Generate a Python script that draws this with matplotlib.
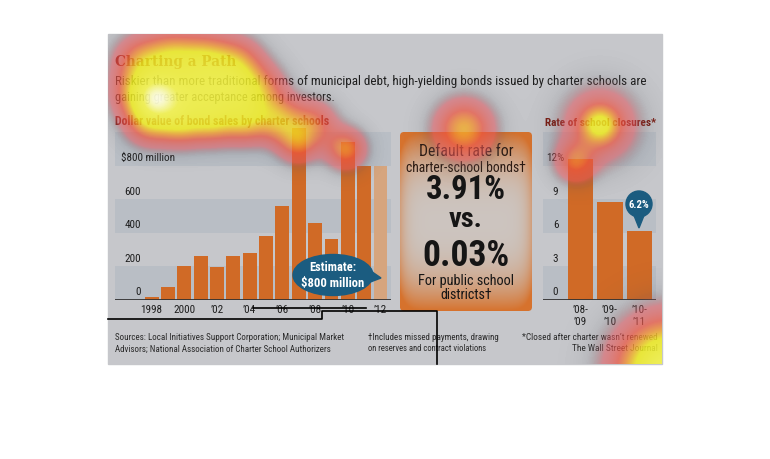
import numpy as np
import matplotlib
matplotlib.use('Agg')
import matplotlib.pyplot as plt
from matplotlib import font_manager as fm
from matplotlib.patches import Rectangle, FancyBboxPatch, Ellipse, Circle, Polygon
from matplotlib.colors import LinearSegmentedColormap

# bond sales by charter schools, $ million
years = [1998, 1999, 2000, 2001, 2002, 2003, 2004, 2005, 2006, 2007, 2008, 2009, 2010, 2011, 2012]
sales = [15, 75, 200, 262, 197, 260, 282, 380, 560, 1025, 460, 362, 940, 800, 800]
year_ticks = [1998, 2000, 2002, 2004, 2006, 2008, 2010, 2012]
year_labels = ['1998', '2000', "\u201902", "\u201904", "\u201906", "\u201908", "\u201910", "\u201912"]
sales_ticks = [0, 200, 400, 600]

# rate of school closures, %
periods = ["\u201908-\n\u201909", "\u201909-\n\u201910", "\u201910-\n\u201911"]
closures = [12.6, 8.8, 6.2]
closure_ticks = [0, 3, 6, 9]

# eye-tracking fixations: x px, y px, weight, spread px
fix_x = [140, 172, 205, 237,
         138, 168, 198, 230, 260,
         148, 180, 212, 245, 280, 314,
         156, 298, 346, 464, 600, 600, 575, 668]
fix_y = [62, 58, 60, 64,
         95, 95, 93, 92, 92,
         124, 124, 122, 122, 122, 124,
         100, 145, 150, 130, 126, 126, 163, 372]
fix_w = [0.3, 0.36, 0.36, 0.3,
         0.34, 0.36, 0.38, 0.36, 0.3,
         0.3, 0.36, 0.36, 0.34, 0.34, 0.26,
         0.3, 0.26, 0.34, 0.4, 0.3, 0.28, 0.26, 0.8]
fix_s = [18, 18, 18, 18,
         18, 18, 18, 18, 18,
         16, 16, 16, 16, 16, 16,
         15, 14, 14, 20, 12, 26, 14, 34]

W, H = 770, 460
PANEL = '#c6c7cb'
BAND = '#b9bec5'
ORANGE = '#d06a26'
TEAL = '#1b5c80'
DARK = '#1e1e1e'
RED = '#7a1a10'


def pick_narrow():
    fl = fm.fontManager.ttflist
    names = {f.name for f in fl}
    for n in ('Roboto Condensed', 'Liberation Sans Narrow', 'Noto Sans Condensed',
              'DejaVu Sans Condensed', 'Open Sans Condensed'):
        if n in names:
            return n, 'normal'
    for n in ('Noto Sans', 'Roboto', 'DejaVu Sans', 'Open Sans'):
        if any(f.name == n and 'condensed' in str(f.stretch) for f in fl):
            return n, 'condensed'
    return 'Liberation Sans', 'normal'


NARROW, STRETCH = pick_narrow()

fig = plt.figure(figsize=(7.7, 4.6), dpi=100)
fig.patch.set_facecolor('white')
renderer = fig.canvas.get_renderer()


def px_axes(x0, y0, x1, y1, z=1):
    return fig.add_axes([x0 / W, 1 - y1 / H, (x1 - x0) / W, (y1 - y0) / H], zorder=z)


def fit(t, width):
    w = t.get_window_extent(renderer).width
    t.set_fontsize(t.get_fontsize() * width / w)
    return t


def ntext(ax, x, y, s, width, size=9, **kw):
    kw.setdefault('family', NARROW)
    kw.setdefault('fontstretch', STRETCH)
    kw.setdefault('va', 'center')
    return fit(ax.text(x, y, s, fontsize=size, **kw), width)


bg = px_axes(0, 0, W, H, z=0)
bg.set_xlim(0, W)
bg.set_ylim(H, 0)
bg.axis('off')
bg.add_patch(Rectangle((108, 35), 554, 330, color=PANEL, zorder=0))

ntext(bg, 115, 62, 'Charting a Path', 121, 14, fontweight='bold', color=RED,
      family='DejaVu Serif', fontstretch='condensed')
ntext(bg, 115, 82, 'Riskier than more traditional forms of municipal debt, high-yielding bonds issued by charter schools are',
      532, color=DARK)
ntext(bg, 115, 97, 'gaining greater acceptance among investors.', 222, color=DARK)
ntext(bg, 115, 121, 'Dollar value of bond sales by charter schools', 213, fontweight='bold', color=RED)
ntext(bg, 545, 123, 'Rate of school closures*', 111, fontweight='bold', color=RED)

# footer
ntext(bg, 115, 338, 'Sources: Local Initiatives Support Corporation; Municipal Market', 230, color='#2a2a2a')
ntext(bg, 115, 349, 'Advisors; National Association of Charter School Authorizers', 218, color='#2a2a2a')
ntext(bg, 368, 338, '\u2020Includes missed payments, drawing', 132, color='#2a2a2a')
ntext(bg, 368, 349, 'on reserves and contract violations', 120, color='#2a2a2a')
ntext(bg, 658, 338, "*Closed after charter wasn\u2019t renewed", 136, color='#2a2a2a', ha='right')
ntext(bg, 658, 349, 'The Wall Street Journal', 86, color='#2a2a2a', ha='right')

# middle box with orange vignette
bx0, by0, bx1, by1 = 400, 133, 532, 312
gx, gy = np.meshgrid(np.linspace(-1, 1, 140), np.linspace(-1, 1, 180))
f = np.clip(np.abs(gy) ** 2.6 + 0.45 * np.abs(gx) ** 10, 0, 1)
c_mid = np.array([0.80, 0.77, 0.75])
c_edge = np.array([0.84, 0.45, 0.18])
grad = c_mid[None, None, :] * (1 - f[..., None]) + c_edge[None, None, :] * f[..., None]
im = bg.imshow(grad, extent=(bx0, bx1, by1, by0), zorder=1, aspect='auto')
box = FancyBboxPatch((bx0 + 4, by0 + 4), bx1 - bx0 - 8, by1 - by0 - 8,
                     boxstyle='round,pad=4', transform=bg.transData, facecolor='none', edgecolor='none')
bg.add_patch(box)
im.set_clip_path(box)

cx = (bx0 + bx1) / 2
ntext(bg, cx, 152, 'Default rate for', 94, color='#2b1a12', ha='center')
ntext(bg, cx, 168, 'charter-school bonds\u2020', 121, color='#2b1a12', ha='center')
ntext(bg, cx, 190, '3.91%', 80, 20, fontweight='bold', color='#151515', ha='center')
ntext(bg, cx, 220, 'vs.', 34, 20, fontweight='bold', color='#151515', ha='center')
ntext(bg, cx, 256, '0.03%', 87, 20, fontweight='bold', color='#151515', ha='center')
ntext(bg, cx, 281, 'For public school', 97, color='#151515', ha='center')
ntext(bg, cx, 295, 'districts\u2020', 52, color='#151515', ha='center')

# left chart: bond sales
axL = px_axes(115, 125, 391, 301)
axL.set_facecolor('none')
axL.set_xlim(1995.76, 2012.64)
axL.set_ylim(0, 1050)
for lo in (0, 400, 800):
    axL.axhspan(lo, lo + 200, color=BAND, lw=0, zorder=0)
cols = [ORANGE] * (len(years) - 1) + ['#d6a57e']
axL.bar(years, sales, width=0.85, color=cols, zorder=2)
axL.axhline(0, color='#333333', lw=1.3, zorder=3)

probe = ntext(axL, 1998, 0, '1998', 22, color=DARK)
TICK = probe.get_fontsize()
probe.remove()

for v in sales_ticks:
    axL.text(1997.35, v + 22, str(v), fontsize=TICK, color=DARK, family=NARROW,
             fontstretch=STRETCH, ha='right', va='bottom')
ntext(axL, 1996.1, 822, '$800 million', 54, TICK, color=DARK, va='bottom')
axL.set_xticks(year_ticks, year_labels, fontsize=TICK, color=DARK, family=NARROW, fontstretch=STRETCH)
axL.tick_params(axis='x', length=0, pad=3)
axL.set_yticks([])
for s in axL.spines.values():
    s.set_visible(False)

# right chart: closures
axR = px_axes(543, 125, 656, 301)
axR.set_facecolor('none')
axR.set_xlim(-1.27, 2.56)
axR.set_ylim(0, 15.75)
for lo in (0, 6, 12):
    axR.axhspan(lo, lo + 3, color=BAND, lw=0, zorder=0)
axR.bar(range(len(closures)), closures, width=0.85, color=ORANGE, zorder=2)
axR.axhline(0, color='#333333', lw=1.3, zorder=3)
for v in closure_ticks:
    axR.text(-0.75, v + 0.35, str(v), fontsize=TICK, color=DARK, family=NARROW, fontstretch=STRETCH,
             ha='right', va='bottom')
axR.text(-1.15, 12.35, '12%', fontsize=TICK, color=DARK, family=NARROW, fontstretch=STRETCH,
         ha='left', va='bottom')
axR.set_xticks(range(len(periods)), periods, fontsize=TICK, color=DARK, family=NARROW,
               fontstretch=STRETCH, linespacing=1.2)
axR.tick_params(axis='x', length=0, pad=3)
axR.set_yticks([])
for s in axR.spines.values():
    s.set_visible(False)

# top layer: callouts, heat overlay, scan path
top = px_axes(0, 0, W, H, z=10)
top.set_facecolor('none')
top.set_xlim(0, W)
top.set_ylim(H, 0)
top.axis('off')

top.add_patch(Polygon([(365, 268), (381, 279), (365, 285)], color=TEAL, zorder=1))
top.add_patch(Ellipse((333, 276), 80, 41, color=TEAL, zorder=1))
ntext(top, 333, 268, 'Estimate:', 47, fontweight='bold', color='white', ha='center', zorder=1.5)
ntext(top, 333, 284, '$800 million', 63, fontweight='bold', color='white', ha='center', zorder=1.5)

top.add_patch(Polygon([(633, 214), (645, 214), (639, 229)], color=TEAL, zorder=1))
top.add_patch(Circle((639, 205), 13, color=TEAL, zorder=1))
ntext(top, 639, 205, '6.2%', 21, fontweight='bold', color='white', ha='center', zorder=1.5)

xx, yy = np.meshgrid(np.arange(W) + 0.5, np.arange(H) + 0.5)
heat = np.zeros((H, W))
for x, y, w, s in zip(fix_x, fix_y, fix_w, fix_s):
    heat += w * np.exp(-((xx - x) ** 2 + (yy - y) ** 2) / (2 * s ** 2))
heat = np.clip(heat, 0, 1)
cmap = LinearSegmentedColormap.from_list('gaze', [
    (0.00, (0.32, 0.32, 0.34, 0.0)),
    (0.04, (0.32, 0.32, 0.34, 0.10)),
    (0.12, (0.88, 0.33, 0.36, 0.55)),
    (0.26, (0.93, 0.33, 0.25, 0.72)),
    (0.38, (0.95, 0.62, 0.18, 0.80)),
    (0.50, (0.94, 0.93, 0.12, 0.84)),
    (0.80, (0.96, 0.96, 0.30, 0.88)),
    (1.00, (1.00, 1.00, 1.00, 0.97)),
])
him = top.imshow(heat, cmap=cmap, vmin=0, vmax=1, extent=(0, W, H, 0),
                 interpolation='bilinear', zorder=2)
clip = Rectangle((108, 35), 554, 330, transform=top.transData, facecolor='none', edgecolor='none')
top.add_patch(clip)
him.set_clip_path(clip)

top.plot([108, 321.5, 321.5, 437, 437], [319.5, 319.5, 311.5, 311.5, 365], color='black', lw=1.2, zorder=3)
top.plot([253, 366], [309, 309], color='black', lw=1.2, zorder=3)

fig.savefig('out.png', dpi=100)
